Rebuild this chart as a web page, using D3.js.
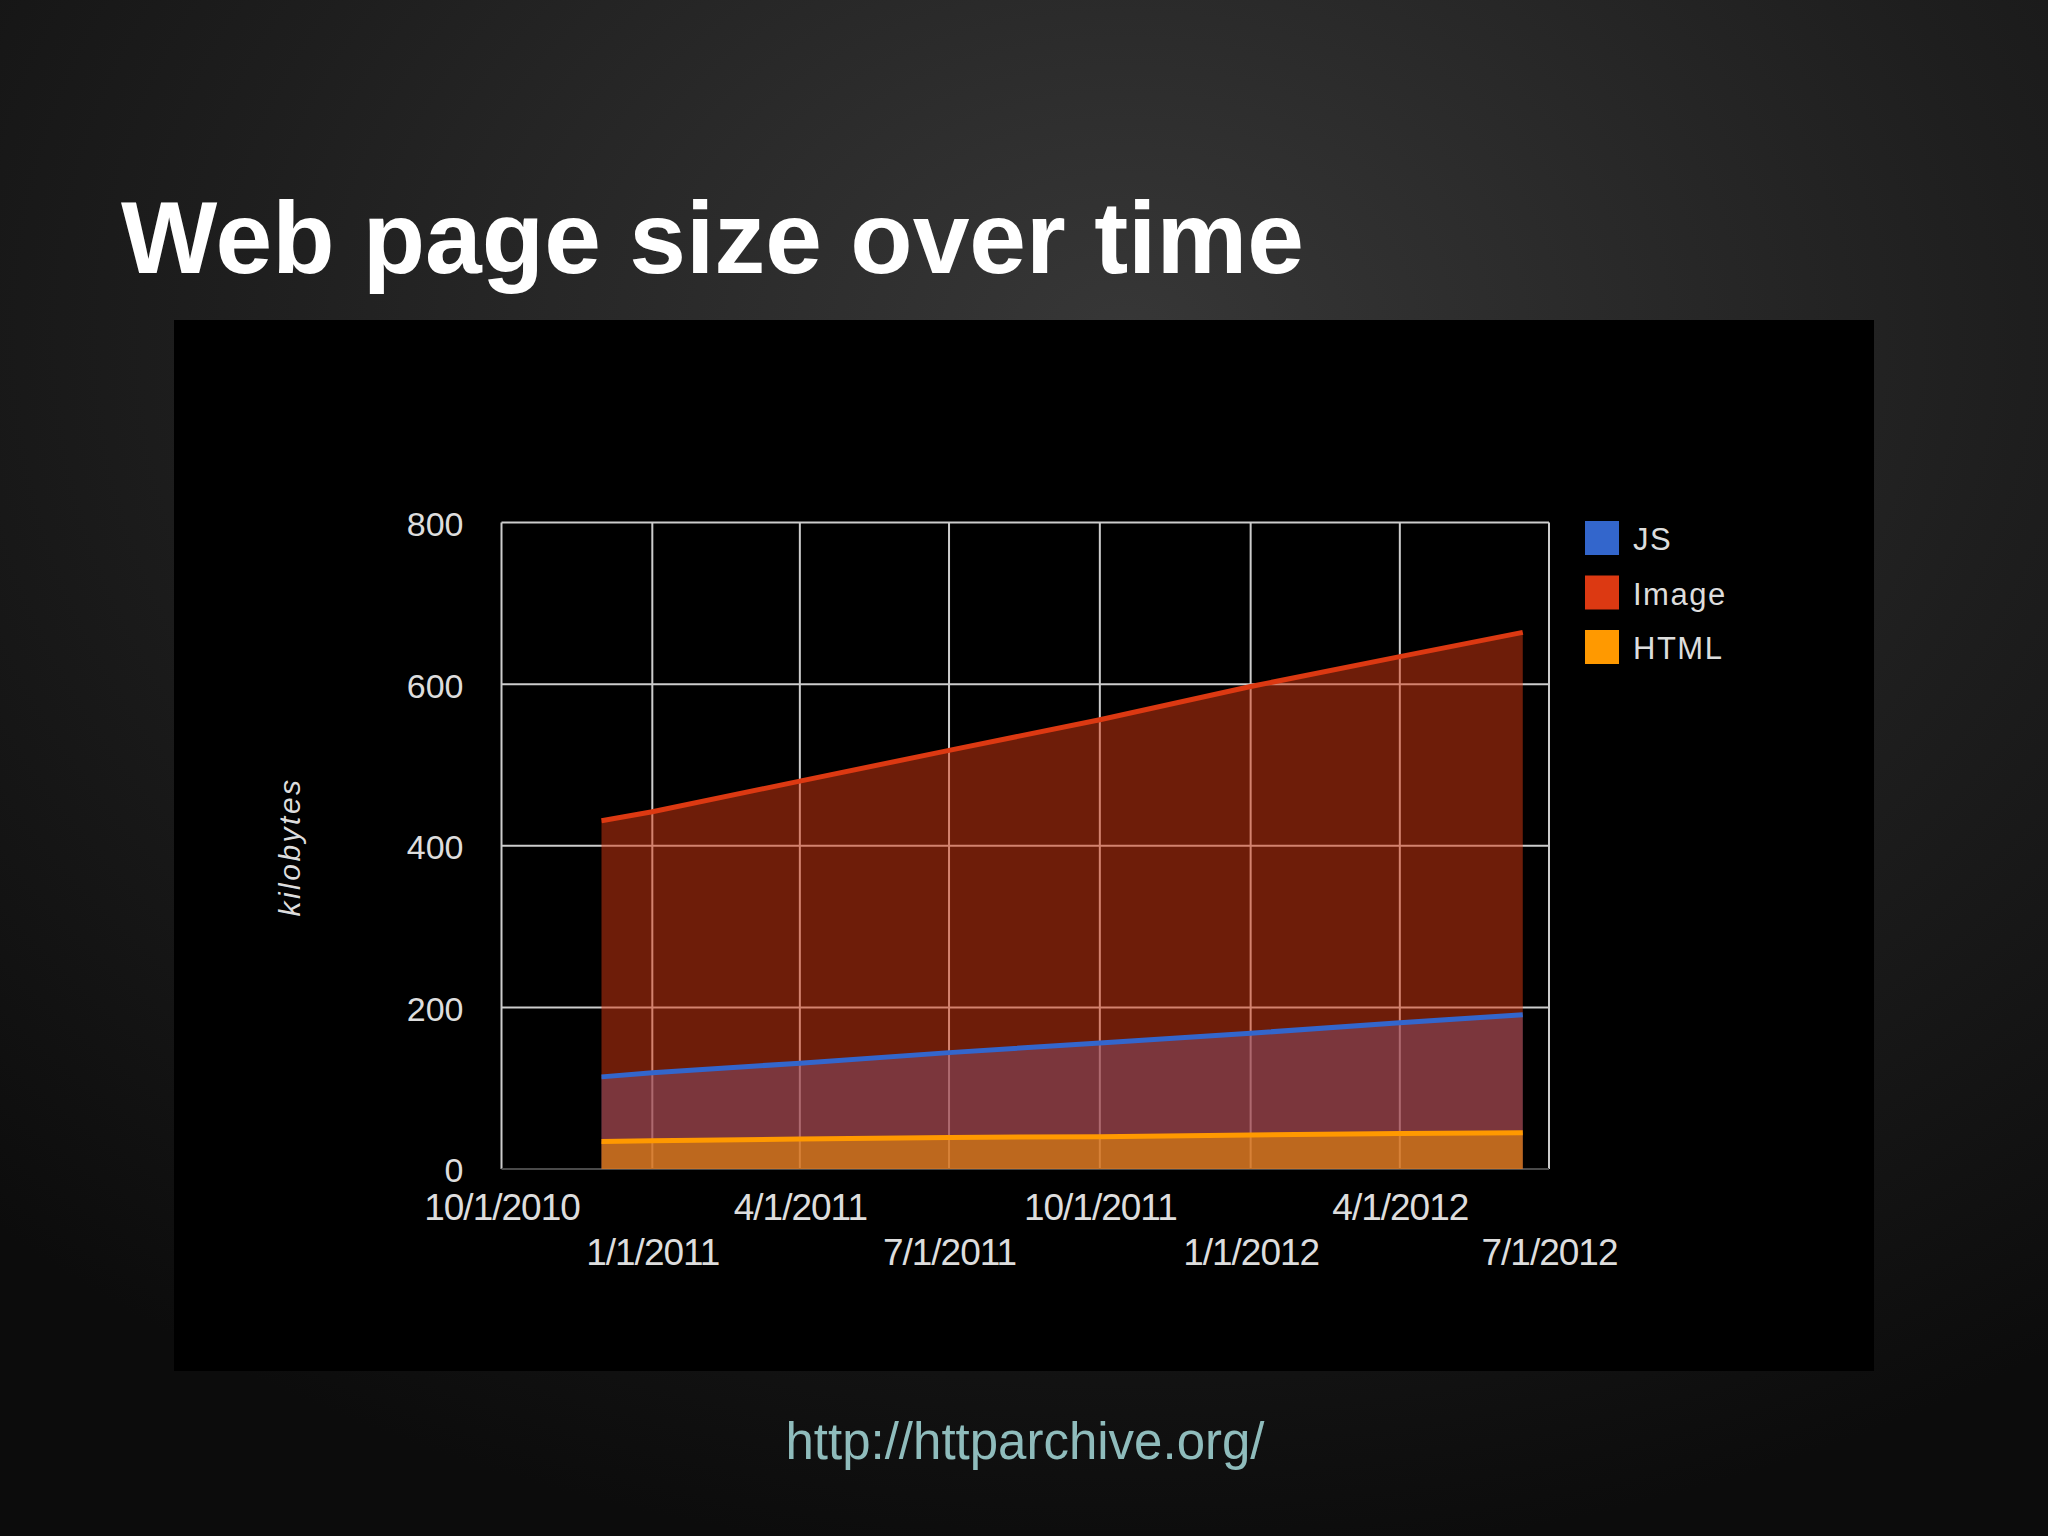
<!DOCTYPE html>
<html>
<head>
<meta charset="utf-8">
<script src="https://cdn.jsdelivr.net/npm/d3@7"></script>
<style>
  html, body { margin: 0; padding: 0; background: #111; }
  svg { display: block; }
</style>
</head>
<body>
<svg id="chart" width="2048" height="1536"></svg>
<script>
// ---- data ----
const dates = ["2010-12-01", "2011-01-01", "2011-04-01", "2011-07-01", "2011-10-01", "2012-01-01", "2012-04-01", "2012-06-15"];
const jsKB = [114, 119, 131, 144, 156, 168, 181, 191];
const imageKB = [431, 442, 480, 518, 556, 597, 634, 664];
const htmlKB = [34, 35, 37, 39, 40, 42, 44, 45];
const seriesNames = ["JS", "Image", "HTML"];
const yTicks = [0, 200, 400, 600, 800];
const xTickDates = ["2010-10-01", "2011-01-01", "2011-04-01", "2011-07-01", "2011-10-01", "2012-01-01", "2012-04-01", "2012-07-01"];
const titleText = "Web page size over time";
const yAxisTitle = "kilobytes";
const sourceText = "http://httparchive.org/";

// ---- setup ----
const parse = d3.timeParse("%Y-%m-%d");
const svg = d3.select("#chart");
const W = 2048, H = 1536;
const colors = { JS: "#3366cc", Image: "#dc3912", HTML: "#ff9900" };
const valuesBy = { JS: jsKB, Image: imageKB, HTML: htmlKB };

// background gradient
const defs = svg.append("defs");
const rg = defs.append("radialGradient").attr("id", "bg")
  .attr("cx", "55%").attr("cy", "22%").attr("r", "80%");
rg.append("stop").attr("offset", "0%").attr("stop-color", "#373737");
rg.append("stop").attr("offset", "55%").attr("stop-color", "#1e1e1e");
rg.append("stop").attr("offset", "100%").attr("stop-color", "#0c0c0c");
svg.append("rect").attr("width", W).attr("height", H).attr("fill", "url(#bg)");

// title
svg.append("text")
  .attr("x", 121).attr("y", 273)
  .attr("font-family", "Liberation Sans, Arial, sans-serif")
  .attr("font-weight", "bold").attr("font-size", 102)
  .attr("fill", "#ffffff")
  .text(titleText);

// chart panel
svg.append("rect").attr("x", 174).attr("y", 320).attr("width", 1700).attr("height", 1051).attr("fill", "#000");

// scales
const x = d3.scaleTime()
  .domain([parse(xTickDates[0]), parse(xTickDates[xTickDates.length - 1])])
  .range([501.5, 1549]);
const y = d3.scaleLinear().domain([0, 800]).range([1169, 522.5]);

// gridlines
const grid = svg.append("g");
grid.selectAll("line.h").data(yTicks.filter(v => v > 0)).join("line")
  .attr("x1", x.range()[0]).attr("x2", x.range()[1])
  .attr("y1", d => y(d)).attr("y2", d => y(d))
  .attr("stroke", "#cccccc").attr("stroke-width", 2);
grid.selectAll("line.v").data(xTickDates.map(parse)).join("line")
  .attr("x1", d => x(d)).attr("x2", d => x(d))
  .attr("y1", y(800)).attr("y2", y(0))
  .attr("stroke", "#cccccc").attr("stroke-width", 2);
// baseline
grid.append("line")
  .attr("x1", x.range()[0]).attr("x2", x.range()[1])
  .attr("y1", y(0)).attr("y2", y(0))
  .attr("stroke", "#4a4a4a").attr("stroke-width", 2);

// areas (overlapping, not stacked)
const drawOrder = ["JS", "Image", "HTML"];
const area = d3.area().x(d => x(d.date)).y0(y(0)).y1(d => y(d.v));
const line = d3.line().x(d => x(d.date)).y(d => y(d.v));
const pts = name => dates.map((d, i) => ({ date: parse(d), v: valuesBy[name][i] }));

const areasG = svg.append("g");
drawOrder.forEach(name => {
  areasG.append("path").datum(pts(name))
    .attr("d", area).attr("fill", colors[name]).attr("fill-opacity", 0.5);
});
const linesG = svg.append("g");
drawOrder.forEach(name => {
  linesG.append("path").datum(pts(name))
    .attr("d", line).attr("fill", "none")
    .attr("stroke", colors[name]).attr("stroke-width", 5);
});

// y axis labels
const yAxis = svg.append("g").attr("transform", `translate(${x.range()[0]},0)`)
  .call(d3.axisLeft(y).tickValues(yTicks).tickSize(0).tickPadding(38));
yAxis.select(".domain").remove();
yAxis.selectAll("text")
  .attr("font-family", "Liberation Sans, Arial, sans-serif")
  .attr("font-size", 34).attr("fill", "#dddddd").attr("dy", "0.38em");

// x axis labels (two alternating rows)
const fmt = d3.timeFormat("%-m/%-d/%Y");
const xAxis = svg.append("g").attr("transform", `translate(0,${y(0)})`)
  .call(d3.axisBottom(x).tickValues(xTickDates.map(parse)).tickFormat(fmt).tickSize(0));
xAxis.select(".domain").remove();
xAxis.selectAll("text")
  .attr("font-family", "Liberation Sans, Arial, sans-serif")
  .attr("font-size", 37).attr("letter-spacing", -1).attr("fill", "#dddddd")
  .attr("dy", 0)
  .attr("y", (d, i) => i % 2 === 0 ? 51 : 96);

// y axis title
svg.append("text")
  .attr("transform", `translate(300,847) rotate(-90)`)
  .attr("text-anchor", "middle")
  .attr("font-family", "Liberation Sans, Arial, sans-serif")
  .attr("font-style", "italic").attr("font-size", 30).attr("letter-spacing", 2.5)
  .attr("fill", "#dddddd")
  .text(yAxisTitle);

// legend
const legend = svg.append("g").attr("transform", "translate(1585,521)");
const li = legend.selectAll("g").data(seriesNames).join("g")
  .attr("transform", (d, i) => `translate(0,${i * 54.5})`);
li.append("rect").attr("width", 34).attr("height", 34).attr("fill", d => colors[d]);
li.append("text").attr("x", 48).attr("y", 29)
  .attr("font-family", "Liberation Sans, Arial, sans-serif")
  .attr("font-size", 31).attr("letter-spacing", 1.5).attr("fill", "#dddddd")
  .text(d => d);

// source
svg.append("text")
  .attr("x", 1025).attr("y", 1459).attr("text-anchor", "middle")
  .attr("font-family", "Liberation Sans, Arial, sans-serif")
  .attr("font-size", 51).attr("fill", "#8fbcbc")
  .text(sourceText);
</script>
</body>
</html>
